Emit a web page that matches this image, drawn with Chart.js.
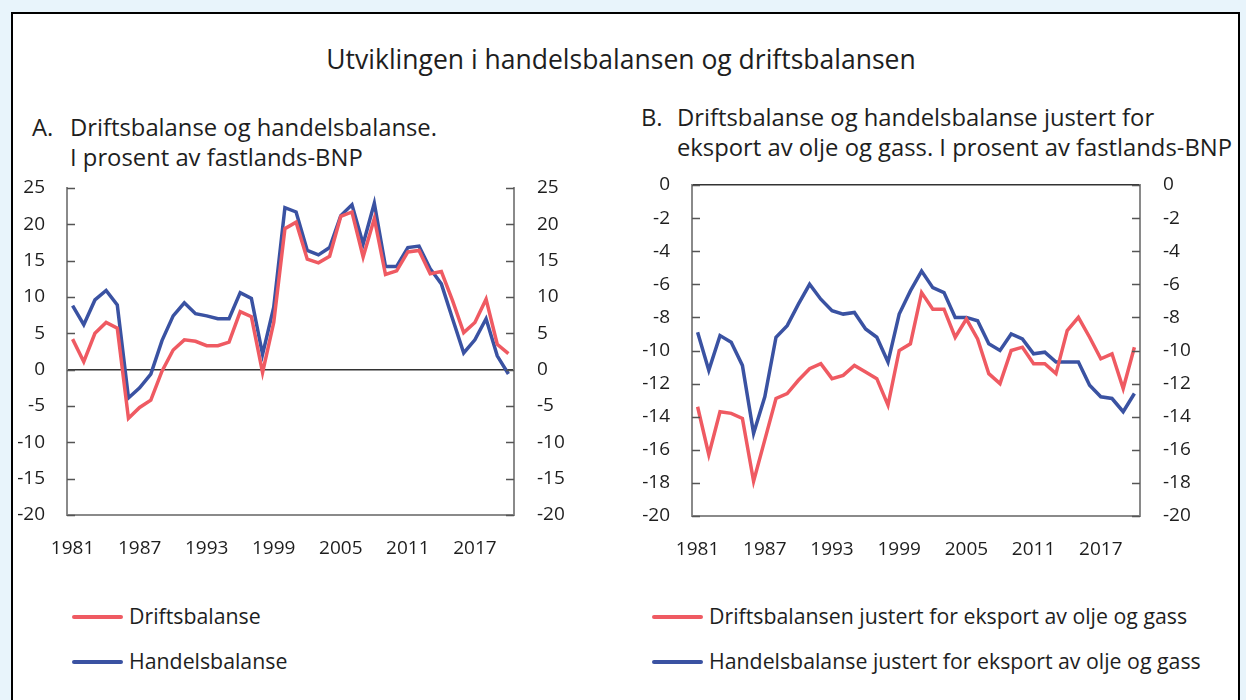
<!DOCTYPE html>
<html>
<head>
<meta charset="utf-8">
<script src="https://cdn.jsdelivr.net/npm/chart.js@4/dist/chart.umd.min.js"></script>
<style>
  body { margin: 0; background: #e8f4fb; font-family: "Open Sans", sans-serif; color: #1e1e1e; }
  #box { position: absolute; left: 11px; top: 12px; width: 1225px; height: 700px; background: #fff; border: 2px solid #000; border-bottom: none; }
  .txt { position: absolute; white-space: nowrap; }
  #title { left: 0; width: 1242px; top: 41px; text-align: center; font-size: 26.5px; line-height: 36px; }
  .ptitle { font-size: 23.8px; line-height: 30px; }
  .legend { position: absolute; font-size: 21.3px; }
  .legend div { position: absolute; white-space: nowrap; }
  .legend span { position: absolute; top: 0; height: 4px; border-radius: 2px; }
  canvas { position: absolute; }
</style>
</head>
<body>
<div id="box"></div>
<div id="title" class="txt">Utviklingen i handelsbalansen og driftsbalansen</div>
<div class="txt ptitle" style="left:32px; top:112px;">A.</div>
<div class="txt ptitle" style="left:70px; top:112px;">Driftsbalanse og handelsbalanse.<br>I prosent av fastlands-BNP</div>
<div class="txt ptitle" style="left:641px; top:102px;">B.</div>
<div class="txt ptitle" style="left:677px; top:102px;">Driftsbalanse og handelsbalanse justert for<br>eksport av olje og gass. I prosent av fastlands-BNP</div>
<div style="position:absolute; left:0; top:160px; width:600px; height:420px;"><canvas id="chartA"></canvas></div>
<div style="position:absolute; left:620px; top:160px; width:626px; height:420px;"><canvas id="chartB"></canvas></div>
<div id="legendA" class="legend"></div>
<div id="legendB" class="legend"></div>
<script>
// år 1981-2020
const years = [];
for (let y = 1981; y <= 2020; y++) years.push(String(y));
const shownYears = ['1981', '1987', '1993', '1999', '2005', '2011', '2017'];

// A: prosent av fastlands-BNP
const drifts = [4.2, 1.1, 5.0, 6.5, 5.7, -6.7, -5.2, -4.2, -0.2, 2.7,
  4.1, 3.9, 3.3, 3.3, 3.8, 8.0, 7.3, -0.4, 6.5, 19.4,
  20.3, 15.2, 14.7, 15.6, 21.1, 21.7, 15.5, 20.8, 13.1, 13.6,
  16.2, 16.4, 13.2, 13.5, 9.5, 5.1, 6.5, 9.7, 3.5, 2.2];
const handels = [8.8, 6.2, 9.6, 10.9, 8.9, -3.9, -2.5, -0.6, 4.0, 7.4,
  9.2, 7.7, 7.4, 7.0, 7.0, 10.6, 9.8, 2.1, 8.6, 22.3,
  21.7, 16.4, 15.8, 16.8, 21.2, 22.7, 17.3, 22.9, 14.2, 14.2,
  16.8, 17.0, 13.9, 11.8, 7.0, 2.3, 4.1, 7.0, 1.9, -0.6];

// B: justert for eksport av olje og gass
const driftsJustert = [-13.4, -16.3, -13.7, -13.8, -14.1, -17.9, -15.4, -12.9, -12.6, -11.8,
  -11.1, -10.8, -11.7, -11.5, -10.9, -11.3, -11.7, -13.3, -10.0, -9.6,
  -6.5, -7.5, -7.5, -9.2, -8.1, -9.3, -11.4, -12.0, -10.0, -9.8,
  -10.8, -10.8, -11.4, -8.8, -8.0, -9.2, -10.5, -10.2, -12.3, -9.8];
const handelsJustert = [-8.9, -11.2, -9.1, -9.5, -10.9, -15.0, -12.8, -9.2, -8.5, -7.2,
  -6.0, -6.9, -7.6, -7.8, -7.7, -8.7, -9.2, -10.7, -7.8, -6.4,
  -5.2, -6.2, -6.5, -8.0, -8.0, -8.2, -9.6, -10.0, -9.0, -9.3,
  -10.2, -10.1, -10.7, -10.7, -10.7, -12.1, -12.8, -12.9, -13.7, -12.6];

const rød = '#ef5a62';
const blå = '#3a52a2';
const tekstfarge = '#1e1e1e';

Chart.defaults.font.family = '"Open Sans", sans-serif';
Chart.defaults.color = tekstfarge;
Chart.defaults.animation = false;

// små tickstreker innover fra begge y-aksene
const innerTicks = {
  id: 'innerTicks',
  afterDraw(chart) {
    const ctx = chart.ctx;
    const sc = chart.scales.y;
    const a = chart.chartArea;
    ctx.save();
    ctx.strokeStyle = '#555';
    ctx.lineWidth = 1.5;
    sc.ticks.forEach(t => {
      const py = Math.round(sc.getPixelForValue(t.value)) + 0.5;
      ctx.beginPath();
      ctx.moveTo(a.left, py); ctx.lineTo(a.left + 8, py);
      ctx.moveTo(a.right - 8, py); ctx.lineTo(a.right, py);
      ctx.stroke();
    });
    ctx.restore();
  }
};

function lagGraf(id, serier, navn, min, max, step, dims) {
  const yTicks = { stepSize: step, font: { size: 19 }, color: tekstfarge };
  return new Chart(document.getElementById(id), {
    type: 'line',
    data: {
      labels: years,
      datasets: [
        { label: navn[0], data: serier[0], borderColor: rød, borderWidth: 3.5, pointRadius: 0, tension: 0, yAxisID: 'y' },
        { label: navn[1], data: serier[1], borderColor: blå, borderWidth: 3.5, pointRadius: 0, tension: 0, yAxisID: 'y' },
      ],
    },
    options: {
      responsive: true,
      maintainAspectRatio: false,
      layout: { padding: { top: dims.top, left: 0, right: 0, bottom: 0 } },
      plugins: { legend: { display: false }, tooltip: { enabled: false } },
      scales: {
        x: {
          type: 'category',
          offset: true,
          grid: { display: false },
          border: { display: true, color: '#8a8a8a', width: 2 },
          ticks: {
            autoSkip: false, maxRotation: 0, padding: 14, font: { size: 19 }, color: tekstfarge,
            callback(v) { const l = this.getLabelForValue(v); return shownYears.includes(l) ? l : ''; },
          },
          afterFit(s) { s.height = dims.xh; s.paddingLeft = 0; s.paddingRight = 0; },
        },
        y: {
          position: 'left', min, max,
          grid: { drawTicks: false, lineWidth: 1.5, color: c => c.tick.value === 0 ? '#333' : 'rgba(0,0,0,0)' },
          border: { display: true, color: '#8a8a8a', width: 2 },
          ticks: Object.assign({ padding: 22 }, yTicks),
          afterFit(s) { s.width = dims.lw; s.paddingTop = 0; s.paddingBottom = 0; },
        },
        y2: {
          position: 'right', min, max,
          grid: { display: false, drawTicks: false },
          border: { display: true, color: '#8a8a8a', width: 2 },
          ticks: Object.assign({ padding: 23 }, yTicks),
          afterFit(s) { s.width = dims.rw; s.paddingTop = 0; s.paddingBottom = 0; },
        },
      },
    },
    plugins: [innerTicks],
  });
}

const navnA = ['Driftsbalanse', 'Handelsbalanse'];
const navnB = ['Driftsbalansen justert for eksport av olje og gass', 'Handelsbalanse justert for eksport av olje og gass'];

lagGraf('chartA', [drifts, handels], navnA, -20, 25, 5, { top: 28, lw: 67, rw: 86, xh: 65 });
lagGraf('chartB', [driftsJustert, handelsJustert], navnB, -20, 0, 2, { top: 25, lw: 72, rw: 106, xh: 64 });

// forklaring under hver graf
function lagForklaring(id, navn, x) {
  const el = document.getElementById(id);
  [rød, blå].forEach((farge, i) => {
    const rad = document.createElement('div');
    rad.style.left = x + 'px';
    rad.style.top = (601 + i * 45) + 'px';
    rad.innerHTML = '<span style="left:0; width:51px; top:14px; background:' + farge + '"></span>' +
      '<b style="font-weight:normal; position:absolute; left:57px; top:0;">' + navn[i] + '</b>';
    el.appendChild(rad);
  });
}
lagForklaring('legendA', navnA, 72);
lagForklaring('legendB', navnB, 652);
</script>
</body>
</html>
